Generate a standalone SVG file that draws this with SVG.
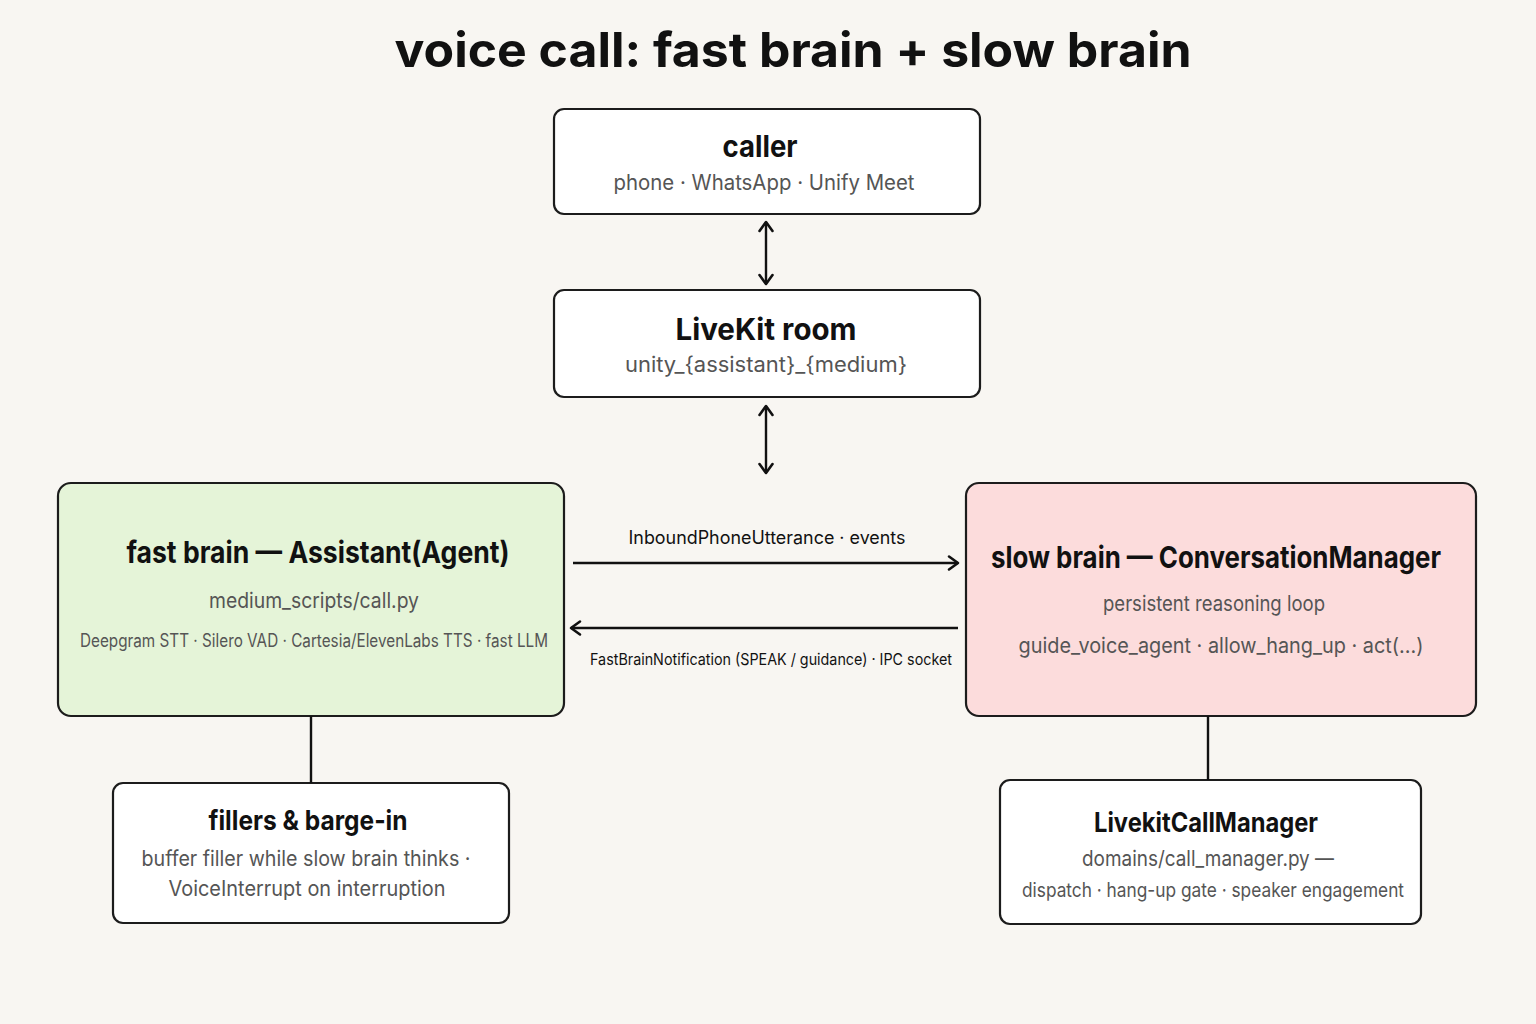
<svg xmlns="http://www.w3.org/2000/svg" width="1536" height="1024" viewBox="0 0 1536 1024">
<defs>
<style>
.box{fill:#ffffff;stroke:#1c1c1c;stroke-width:2.2}
.t{font-family:Inter,"Liberation Sans",sans-serif;font-weight:700;fill:#111;text-anchor:middle}
.s{font-family:Inter,"Liberation Sans",sans-serif;fill:#555;text-anchor:middle}
.l{font-family:Inter,"Liberation Sans",sans-serif;fill:#111;text-anchor:middle}
.c{stroke:#111;stroke-width:2.4;fill:none}
</style>
<marker id="ah" viewBox="0 0 18 18" refX="16" refY="9" markerWidth="18" markerHeight="18" markerUnits="userSpaceOnUse" orient="auto-start-reverse">
<path d="M7,2.5 L16,9 L7,15.5" fill="none" stroke="#111" stroke-width="2.6" stroke-linecap="round" stroke-linejoin="round"/>
</marker>
</defs>
<rect width="1536" height="1024" fill="#f8f6f2"/>
<text class="t" x="793" y="67" font-size="48" textLength="797" lengthAdjust="spacingAndGlyphs">voice call: fast brain + slow brain</text>

<g id="caller">
<rect class="box" x="554" y="109" width="426" height="105" rx="10"/>
<text class="t" x="760" y="157" font-size="30" textLength="75" lengthAdjust="spacingAndGlyphs">caller</text>
<text class="s" x="764" y="190" font-size="21" textLength="301" lengthAdjust="spacingAndGlyphs">phone · WhatsApp · Unify Meet</text>
</g>

<g id="livekit-room">
<rect class="box" x="554" y="290" width="426" height="107" rx="10"/>
<text class="t" x="766" y="340" font-size="30" textLength="181" lengthAdjust="spacingAndGlyphs">LiveKit room</text>
<text class="s" x="766" y="372" font-size="21" textLength="282" lengthAdjust="spacingAndGlyphs">unity_{assistant}_{medium}</text>
</g>

<g id="fast-brain">
<rect class="box" x="58" y="483" width="506" height="233" rx="13" style="fill:#e5f4d8"/>
<text class="t" x="318" y="563" font-size="30" textLength="383" lengthAdjust="spacingAndGlyphs">fast brain — Assistant(Agent)</text>
<text class="s" x="314" y="608" font-size="21" textLength="210" lengthAdjust="spacingAndGlyphs">medium_scripts/call.py</text>
<text class="s" x="314" y="647" font-size="18" textLength="468" lengthAdjust="spacingAndGlyphs">Deepgram STT · Silero VAD · Cartesia/ElevenLabs TTS · fast LLM</text>
</g>

<g id="slow-brain">
<rect class="box" x="966" y="483" width="510" height="233" rx="13" style="fill:#fcdcdc"/>
<text class="t" x="1216" y="568" font-size="30" textLength="450" lengthAdjust="spacingAndGlyphs">slow brain — ConversationManager</text>
<text class="s" x="1214" y="611" font-size="21" textLength="222" lengthAdjust="spacingAndGlyphs">persistent reasoning loop</text>
<text class="s" x="1221" y="653" font-size="21" textLength="405" lengthAdjust="spacingAndGlyphs">guide_voice_agent · allow_hang_up · act(...)</text>
</g>

<g id="fillers">
<rect class="box" x="113" y="783" width="396" height="140" rx="10"/>
<text class="t" x="308" y="830" font-size="27" textLength="199" lengthAdjust="spacingAndGlyphs">fillers &amp; barge-in</text>
<text class="s" x="306" y="866" font-size="21" textLength="329" lengthAdjust="spacingAndGlyphs">buffer filler while slow brain thinks ·</text>
<text class="s" x="307" y="896" font-size="21" textLength="277" lengthAdjust="spacingAndGlyphs">VoiceInterrupt on interruption</text>
</g>

<g id="call-manager">
<rect class="box" x="1000" y="780" width="421" height="144" rx="10"/>
<text class="t" x="1206" y="832" font-size="27" textLength="224" lengthAdjust="spacingAndGlyphs">LivekitCallManager</text>
<text class="s" x="1208" y="866" font-size="21" textLength="252" lengthAdjust="spacingAndGlyphs">domains/call_manager.py —</text>
<text class="s" x="1213" y="897" font-size="20" textLength="382" lengthAdjust="spacingAndGlyphs">dispatch · hang-up gate · speaker engagement</text>
</g>

<g id="connectors">
<line class="c" x1="766" y1="222" x2="766" y2="284" marker-start="url(#ah)" marker-end="url(#ah)"/>
<line class="c" x1="766" y1="406" x2="766" y2="473" marker-start="url(#ah)" marker-end="url(#ah)"/>
<line class="c" x1="573" y1="563" x2="958" y2="563" marker-end="url(#ah)"/>
<text class="l" x="767" y="544" font-size="18" textLength="277" lengthAdjust="spacingAndGlyphs">InboundPhoneUtterance · events</text>
<line class="c" x1="958" y1="628" x2="571" y2="628" marker-end="url(#ah)"/>
<text class="l" x="771" y="665" font-size="16" textLength="362" lengthAdjust="spacingAndGlyphs">FastBrainNotification (SPEAK / guidance) · IPC socket</text>
<line class="c" x1="311" y1="716" x2="311" y2="783"/>
<line class="c" x1="1208" y1="716" x2="1208" y2="780"/>
</g>
</svg>
